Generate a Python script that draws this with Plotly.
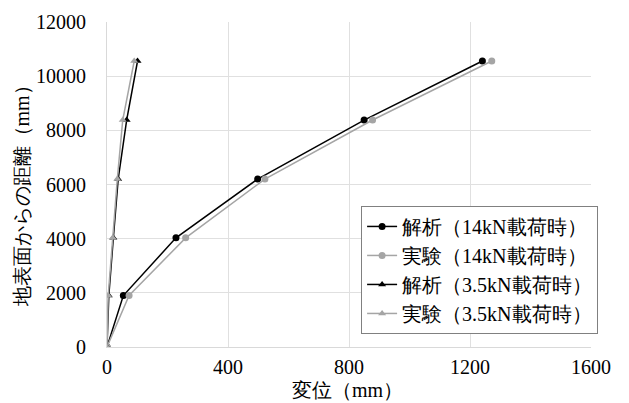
import plotly.graph_objects as go

depth = [0, 1900, 4030, 6200, 8380, 10560]
ana14 = [0, 54, 228, 498, 850, 1241]
exp14 = [0, 73, 260, 522, 878, 1272]
ana35 = [0, 6, 21, 37, 65, 101]
exp35 = [0, 4, 19, 34, 52, 90]

names = ["解析（14kN載荷時）", "実験（14kN載荷時）", "解析（3.5kN載荷時）", "実験（3.5kN載荷時）"]
x_title = "変位（mm）"
y_title = "地表面からの距離（mm）"
FONT = "Liberation Serif"
FS = 20
BLACK = "#000000"
GRAY = "#a5a5a5"

fig = go.Figure()
series = [
    (ana14, names[0], BLACK, "circle"),
    (exp14, names[1], GRAY, "circle"),
    (ana35, names[2], BLACK, "triangle-up"),
    (exp35, names[3], GRAY, "triangle-up"),
]
for xs, nm, col, sym in series:
    fig.add_trace(go.Scatter(
        x=xs, y=depth, name=nm, mode="lines+markers",
        line=dict(color=col, width=1.5),
        marker=dict(color=col, symbol=sym, size=7),
    ))

fig.update_layout(
    width=629, height=403,
    margin=dict(l=107, r=38, t=22, b=56),
    paper_bgcolor="white", plot_bgcolor="white",
    font=dict(family=FONT, size=FS, color="#000000"),
    showlegend=True,
    legend=dict(
        x=0.525, y=0.434, xanchor="left", yanchor="top",
        bgcolor="white", bordercolor="#808080", borderwidth=1,
        font=dict(family=FONT, size=FS),
        tracegroupgap=0, itemwidth=30,
    ),
    annotations=[
        dict(text=x_title, xref="paper", yref="paper", x=0.497, y=-0.132,
             xanchor="center", yanchor="middle", showarrow=False,
             font=dict(family=FONT, size=FS)),
        dict(text=y_title, xref="paper", yref="paper", x=-0.176, y=0.478,
             xanchor="center", yanchor="middle", showarrow=False, textangle=-90,
             font=dict(family=FONT, size=FS)),
    ],
)
fig.update_xaxes(
    range=[0, 1600], dtick=400, tick0=0, tickformat="d",
    showgrid=True, gridcolor="#e0e0e0", gridwidth=1,
    showline=True, linecolor="#d9d9d9", zeroline=False,
    ticks="", ticklabelstandoff=2, automargin=False,
)
fig.update_yaxes(
    range=[0, 12000], dtick=2000, tick0=0, tickformat="d",
    showgrid=True, gridcolor="#e0e0e0", gridwidth=1,
    showline=True, linecolor="#d9d9d9", zeroline=False,
    ticks="", ticklabelstandoff=16, automargin=False,
)

fig.write_html("out.html", config={"displayModeBar": False},
               post_script="document.body.style.margin='0';")
